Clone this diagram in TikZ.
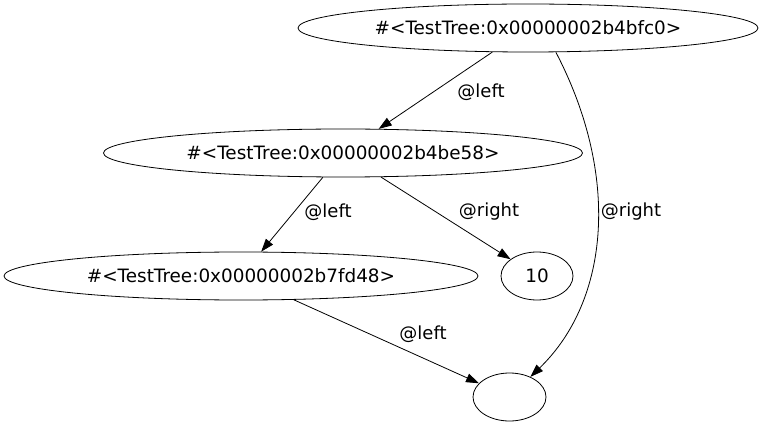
\documentclass[tikz,border=0pt]{standalone}
\usepackage{fontspec}
\setmainfont{DejaVu Sans}
\usetikzlibrary{shapes.geometric,arrows.meta}
\tikzset{
  mytext/.style={font=\fontsize{18}{22}\selectfont},
  myell/.style={draw,ellipse,inner sep=0pt,minimum height=48pt,line width=0.8pt,
    font=\fontsize{18.4}{22}\selectfont},
  mylabel/.style={inner sep=0pt,mytext},
  route/.style={-{Triangle[length=13pt,width=9pt]},line width=0.8pt}
}
\begin{document}
\begin{tikzpicture}[x=1pt,y=-1pt]
  \useasboundingbox (0,0) rectangle (775,427);
  \node[myell,minimum width=460pt] (root) at (528,28) {\#<TestTree:0x00000002b4bfc0>};
  \node[myell,minimum width=479pt] (mid) at (343,153) {\#<TestTree:0x00000002b4be58>};
  \node[myell,minimum width=474pt] (low) at (241,276) {\#<TestTree:0x00000002b7fd48>};
  \node[myell,minimum width=72pt] (ten) at (537,276) {10};
  \node[myell,minimum width=73pt] (empty) at (509.5,397) {};
  % edges
  \draw[route] (root) -- (mid);
  \draw[route] (mid) -- (low);
  \draw[route] (mid) -- (ten);
  \draw[route] (low) -- (empty);
  \draw[route] (root.-41) .. controls (620,175) and (610,300) .. (empty);
  % labels
  \node[mylabel] (lbrootl) at (481,92) {@left};
  \node[mylabel] (lbrootr) at (631,212) {@right};
  \node[mylabel] (lbmidl) at (328,212) {@left};
  \node[mylabel] (lbmidr) at (489,212) {@right};
  \node[mylabel] (lblowl) at (423,334) {@left};
\end{tikzpicture}
\end{document}
